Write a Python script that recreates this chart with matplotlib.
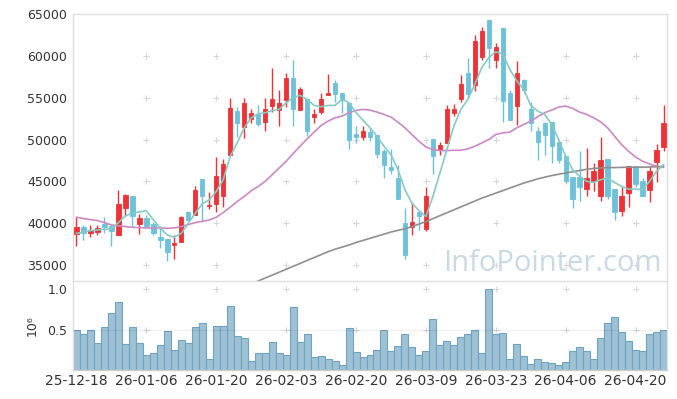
import matplotlib
matplotlib.use("Agg")
import matplotlib.pyplot as plt
import numpy as np

opens = [38760, 39520, 38880, 39000, 39920, 39720, 38600, 41880, 43240, 39960,
         40600, 39880, 38360, 38120, 37400, 37800, 41360, 41000, 45320, 42080,
         42320, 43280, 48120, 53360, 51480, 52480, 53000, 52080, 54000, 53520,
         54720, 57400, 53520, 54800, 52680, 53280, 55280, 56720, 55600, 54320,
         50720, 50280, 50960, 50600, 48600, 46720, 45400, 40000, 39600, 41400,
         39280, 50080, 48720, 49600, 53200, 54800, 58000, 56480, 59880, 64280,
         59520, 63280, 55520, 54000, 57080, 53680, 51080, 52000, 52080, 49720,
         48080, 45520, 45520, 44080, 45080, 43200, 47720, 44120, 41520, 43600,
         46880, 45000, 43920, 47280, 49080]
highs = [40720, 39800, 39800, 39800, 40800, 39800, 43920, 43520, 43240, 41080,
         41000, 40200, 39680, 38120, 38600, 40920, 41520, 44400, 45320, 43720,
         47960, 47720, 54920, 53920, 55000, 53680, 54080, 55000, 58520, 55880,
         58000, 59480, 56320, 54800, 53680, 55600, 57800, 57080, 55600, 54320,
         51600, 51600, 51400, 50600, 48920, 48920, 47000, 41800, 42520, 41400,
         44320, 50080, 49720, 54160, 54200, 57680, 59800, 62480, 63400, 64280,
         61480, 63280, 55880, 59400, 57200, 54480, 51480, 52080, 52080, 49720,
         48080, 45520, 48600, 49000, 47200, 50280, 47720, 44120, 44280, 46880,
         46880, 45400, 46880, 49480, 54080]
lows = [37320, 38000, 38320, 38560, 38800, 37320, 38600, 40920, 39720, 38680,
        39400, 38600, 37000, 35520, 35720, 37800, 40400, 41000, 40200, 41680,
        41400, 42000, 48120, 50320, 50200, 52000, 51600, 51080, 53280, 51600,
        53920, 51600, 53520, 50480, 52000, 53000, 55280, 54520, 53200, 48920,
        49600, 50000, 49800, 47800, 45400, 45920, 42920, 35720, 38600, 39200,
        39120, 45920, 48200, 49600, 52800, 54480, 54800, 55800, 59480, 58600,
        58520, 52120, 52320, 51680, 55520, 51080, 47520, 48200, 47200, 47200,
        44800, 41800, 42600, 43200, 43800, 42680, 42880, 40400, 40880, 42000,
        44320, 43200, 42520, 44920, 48600]
closes = [39560, 38880, 39200, 39400, 39520, 39120, 42320, 43360, 40920, 40600,
          39680, 38880, 38040, 36600, 37600, 40720, 40400, 44000, 43200, 42200,
          45680, 47120, 53720, 51960, 54400, 53120, 51880, 53600, 54800, 54400,
          57400, 53680, 56000, 51000, 53000, 54800, 55600, 55400, 54720, 49920,
          50280, 51080, 50280, 48320, 47000, 46400, 42920, 36200, 40120, 40920,
          43280, 48000, 49320, 53600, 53600, 56600, 55400, 61720, 63000, 60920,
          61000, 54600, 52320, 57920, 55920, 52000, 49680, 50520, 49200, 47520,
          45000, 42880, 44320, 45400, 46200, 47600, 43200, 41400, 43280, 46800,
          44720, 43200, 46280, 48800, 51920]
volumes = [0.50, 0.45, 0.49, 0.33, 0.53, 0.70, 0.84, 0.32, 0.53, 0.33,
           0.18, 0.21, 0.31, 0.48, 0.25, 0.37, 0.33, 0.53, 0.58, 0.14,
           0.55, 0.54, 0.79, 0.42, 0.39, 0.11, 0.21, 0.21, 0.35, 0.21,
           0.19, 0.78, 0.34, 0.44, 0.16, 0.17, 0.13, 0.11, 0.06, 0.52,
           0.22, 0.16, 0.19, 0.25, 0.50, 0.24, 0.30, 0.44, 0.29, 0.19,
           0.24, 0.63, 0.31, 0.36, 0.31, 0.41, 0.44, 0.50, 0.21, 1.00,
           0.44, 0.46, 0.14, 0.32, 0.17, 0.08, 0.13, 0.10, 0.09, 0.06,
           0.10, 0.24, 0.29, 0.24, 0.13, 0.40, 0.58, 0.66, 0.47, 0.36,
           0.25, 0.23, 0.45, 0.47, 0.50]
ma_short = [38800, 38920, 39120, 39200, 39280, 39320, 40080, 40880, 41200, 41360,
            41480, 40400, 39400, 38600, 38320, 38800, 40000, 41200, 42320, 42800,
            43800, 45200, 48000, 49600, 51400, 52600, 53080, 53200, 53480, 53600,
            54400, 55000, 55280, 54800, 54080, 53920, 54080, 54080, 54800, 54400,
            53200, 52320, 51400, 50400, 49200, 48200, 46400, 44000, 42400, 41520,
            40800, 43200, 46000, 48800, 51600, 53600, 54800, 56600, 58600, 59800,
            60480, 60200, 58400, 57000, 56000, 54080, 53400, 53000, 51800, 50000,
            48000, 46400, 45600, 45000, 44880, 45200, 45400, 44880, 44400, 44080,
            44080, 44000, 45000, 46200, 47000]
ma_mid = [40720, 40560, 40440, 40320, 40080, 39800, 39680, 39600, 39520, 39480,
          39440, 39440, 39440, 39400, 39440, 39600, 39840, 40080, 40240, 40400,
          40720, 41280, 41920, 42600, 43200, 43880, 44400, 45000, 45800, 46600,
          47400, 48320, 49200, 50080, 50880, 51680, 52200, 52600, 52800, 53200,
          53480, 53600, 53520, 53280, 53000, 52680, 52080, 51400, 50600, 49800,
          49120, 48800, 48680, 48680, 48720, 48720, 48880, 49200, 49600, 50000,
          50600, 50800, 50880, 51400, 51800, 52200, 52720, 53200, 53520, 53880,
          54000, 53720, 53280, 53000, 52600, 52120, 51400, 50400, 49400, 48600,
          47920, 47400, 47080, 46800, 46680]
ma_long = [None] * 25 + [
    32750, 33100, 33450, 33800, 34150, 34500, 34850, 35200, 35550, 35900,
    36250, 36600, 36900, 37150, 37400, 37700, 37950, 38200, 38450, 38700,
    38950, 39150, 39350, 39600, 39900, 40200, 40550, 40900, 41250, 41600,
    41950, 42300, 42650, 43000, 43300, 43600, 43900, 44200, 44500, 44800,
    45050, 45300, 45500, 45700, 45850, 46000, 46150, 46300, 46450, 46550,
    46600, 46650, 46650, 46680, 46680, 46700, 46700, 46720, 46750, 46800]
tick_labels = ['25-12-18', '26-01-06', '26-01-20', '26-02-03', '26-02-20',
               '26-03-09', '26-03-23', '26-04-06', '26-04-20']

UP = '#ee3237'
DOWN = '#6cc2da'

fig = plt.figure(figsize=(6.77, 3.99), dpi=100)
ax = fig.add_axes([73/677, 1-281/399, 594/677, 267/399])
axv = fig.add_axes([73/677, 1-370/399, 594/677, 89/399], sharex=ax)

n = len(closes)
x = np.arange(n)
o = np.array(opens, float); c = np.array(closes, float)
h = np.array(highs, float); l = np.array(lows, float)
cols = [UP if cc >= oo else DOWN for oo, cc in zip(o, c)]

ax.vlines(x, l, h, colors=cols, linewidth=1.0, zorder=3)
ax.bar(x, np.abs(c - o), bottom=np.minimum(o, c), width=0.62, color=cols,
       edgecolor=cols, linewidth=0.6, zorder=4)

ma_long_arr = np.array([np.nan if v is None else v for v in ma_long], float)
ax.plot(x, ma_mid, color='#cc88c6', linewidth=1.2, zorder=5)
ax.plot(x, ma_long_arr, color='#8f8f8f', linewidth=1.2, zorder=5)
ax.plot(x, ma_short, color='#86cbc3', linewidth=1.2, zorder=6)

ax.set_xlim(-0.5, n - 0.5)
ax.set_ylim(33100, 65000)
yt = [35000, 40000, 45000, 50000, 55000, 60000, 65000]
ax.set_yticks(yt)
ax.set_yticklabels([str(v) for v in yt])
tick_pos = list(range(0, n, 10))
gx, gy = np.meshgrid(tick_pos[1:], yt[:-1])
ax.scatter(gx.ravel(), gy.ravel(), marker='+', s=14, color='#d8d8d8',
           linewidths=0.8, zorder=1)

ax.text((443-73)/594, 0.038, 'InfoPointer.com', transform=ax.transAxes,
        fontsize=21, family='Open Sans', color='#c9dae5', ha='left',
        va='baseline', zorder=2)

for a in (ax, axv):
    for s in a.spines.values():
        s.set_color('#e0e0e0')
        s.set_linewidth(1.0)
    a.tick_params(length=0, labelsize=9, colors='#333333', pad=4)
ax.spines['bottom'].set_visible(False)
axv.spines['bottom'].set_color('#cccccc')
ax.tick_params(labelbottom=False)
axv.tick_params(axis='x', labelsize=10, pad=3)

axv.bar(x, volumes, width=1.0, color='#9ec1d3', edgecolor='#6fa3c6',
        linewidth=0.8, zorder=2)
axv.axhline(0.5, color='#000000', alpha=0.06, linewidth=1.0, zorder=3)
axv.set_ylim(0, 1.1)
axv.set_yticks([0.5, 1.0])
axv.set_yticklabels(['0.5', '1.0'])
axv.set_ylabel('10⁶', fontsize=9, color='#333333', labelpad=6)
axv.set_xticks(tick_pos)
axv.set_xticklabels(tick_labels)
gx2, gy2 = np.meshgrid(tick_pos[1:], [0.5, 1.0])
axv.scatter(gx2.ravel(), gy2.ravel(), marker='+', s=14, color='#d8d8d8',
            linewidths=0.8, zorder=1)

fig.savefig('out.png', dpi=100)
